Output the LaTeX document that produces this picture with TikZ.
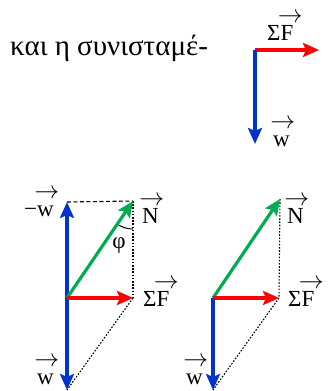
\documentclass[tikz,border=0pt]{standalone}
\usepackage{amsmath}
\usepackage{fontspec}
\setmainfont{Liberation Serif}
\usepackage{tikz}
\usetikzlibrary{arrows.meta,positioning,calc}
\definecolor{vec@red}{RGB}{255,0,0}
\definecolor{vec@blue}{RGB}{0,50,205}
\definecolor{vec@green}{RGB}{0,172,80}
% letter with a vector arrow over it
\newcommand{\arrowover}[1]{\leavevmode\rlap{\kern-0.12em\raisebox{0.74em}{$\rightarrow$}}#1}
\tikzset{
  forces/.style={
    x=1pt, y=-1pt,
    every node/.style={font=\fontsize{23}{27}\selectfont, inner sep=0pt}
  },
  fvec/.style={                    % force vector
    -{Stealth[length=16pt,width=14pt,inset=3pt]},
    line width=3.2pt
  },
  wvec/.style={fvec, draw=vec@blue},
  nvec/.style={fvec, draw=vec@green},
  svec/.style={fvec, draw=vec@red},
  guide/.style={draw=black, line width=1.1pt, dash pattern=on 4pt off 2.5pt},
  dotguide/.style={draw=black, line width=1.1pt, dash pattern=on 1.6pt off 1.6pt},
  vlabel/.style={text=black}
}
\begin{document}
\begin{tikzpicture}[forces]
\useasboundingbox (0,0) rectangle (327,391);

% text line
\node[anchor=base west, font=\fontsize{29}{34}\selectfont] (txt) at (10,55) {και η συνισταμέ-};

% small sketch, top right
\coordinate (O0) at (255,50);
\coordinate (F0) at (319,50);
\coordinate (W0) at (255,144);
\draw[svec] (O0) -- (F0);
\draw[wvec] (O0) -- (W0);
\node[vlabel, anchor=base west] (F0lab) at (267,40) {Σ\arrowover{F}};
\node[vlabel, anchor=base west] (W0lab) at (273,146) {\arrowover{w}};

% left diagram
\coordinate (O1) at (67,298);
\coordinate (MW1) at (67,202);
\coordinate (W1) at (67,390);
\coordinate (N1) at (133,201);
\coordinate (F1) at (133,298);
\draw[guide] (MW1) -- (N1);
\draw[dotguide] (N1) -- (F1);
\draw[dotguide] (F1) -- (W1);
\draw[line width=1pt] (N1) ++(236:28pt) arc[start angle=236, end angle=270, radius=28pt];
\draw[wvec] (O1) -- (MW1);
\draw[wvec] (O1) -- (W1);
\draw[nvec] (O1) -- (N1);
\draw[svec] (O1) -- (F1);
\node[vlabel, anchor=base east] (MW1lab) at (54,216) {−\arrowover{w}};
\node[vlabel, anchor=base west] (N1lab) at (142,223) {\arrowover{N}};
\node[vlabel] (phi) at (119,246) {φ};
\node[vlabel, anchor=base west] (F1lab) at (143,306) {Σ\arrowover{F}};
\node[vlabel, anchor=base east] (W1lab) at (54,384) {\arrowover{w}};

% right diagram
\coordinate (O2) at (213,298);
\coordinate (W2) at (213,390);
\coordinate (N2) at (280,199);
\coordinate (F2) at (279,298);
\draw[dotguide] (N2) -- (F2);
\draw[dotguide] (F2) -- (W2);
\draw[wvec] (O2) -- (W2);
\draw[nvec] (O2) -- (N2);
\draw[svec] (O2) -- (F2);
\node[vlabel, anchor=base west] (N2lab) at (287,223) {\arrowover{N}};
\node[vlabel, anchor=base west] (F2lab) at (288,306) {Σ\arrowover{F}};
\node[vlabel, anchor=base east] (W2lab) at (203,384) {\arrowover{w}};
\end{tikzpicture}
\end{document}
